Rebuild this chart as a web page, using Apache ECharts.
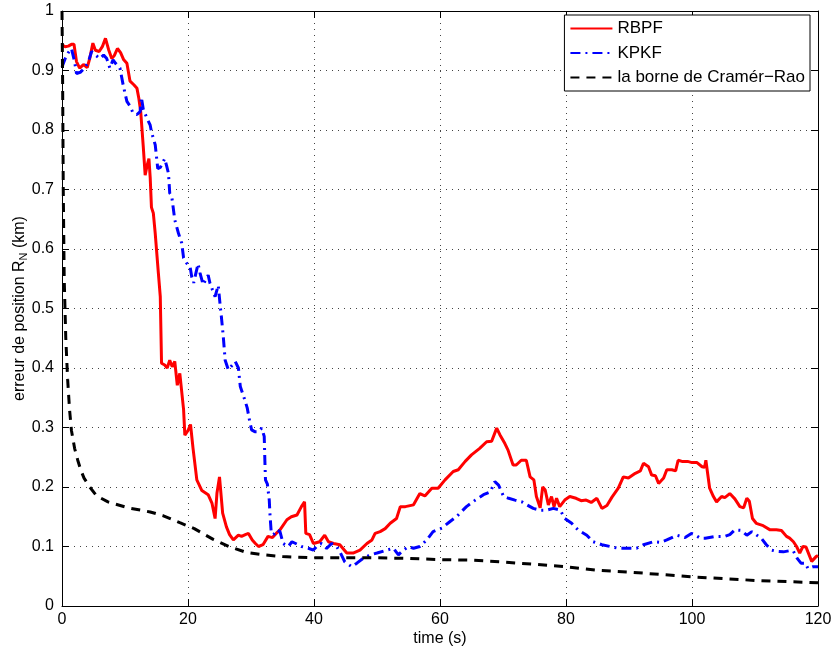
<!DOCTYPE html>
<html>
<head>
<meta charset="utf-8">
<script src="https://cdn.jsdelivr.net/npm/echarts@6/dist/echarts.min.js"></script>
<style>
  html, body { margin: 0; padding: 0; background: #fff; }
  #chart { width: 835px; height: 653px; }
</style>
</head>
<body>
<div id="chart"></div>
<script>
// Position error over time for the two filters and the Cramér-Rao bound
const rbpfTime = [0,0.5,1.0,1.5,1.9,2.3,2.8,3.4,4.0,4.4,4.9,5.3,5.9,6.4,6.9,7.4,7.9,8.3,8.8,9.3,9.8,10.3,10.6,10.8,11.4,11.9,12.2,12.5,12.9,13.2,13.5,13.8,14.0,14.2,14.5,14.8,15.3,15.6,15.8,16.3,16.7,17.1,17.5,17.9,18.3,18.7,19.0,19.3,19.5,20.0,20.4,20.8,21.4,22.2,23.2,23.8,24.3,24.6,25.0,25.5,26.1,26.6,27.2,28.0,28.5,29.1,29.6,30.2,30.7,31.2,31.9,32.7,33.4,34.0,34.6,35.7,36.4,37.3,38.0,38.5,38.7,39.3,39.9,40.9,41.7,42.3,43.1,44.1,45.2,46.2,47.3,48.4,49.2,49.7,50.5,51.3,52.1,53.1,53.7,54.5,55.8,56.8,57.6,58.7,59.7,60.8,62.1,62.9,64.0,65.0,66.3,67.4,68.2,69.0,69.5,70.3,70.8,71.6,72.1,72.9,73.7,74.3,74.9,75.3,75.9,76.3,76.7,77.2,77.7,78.1,78.5,79.0,79.8,80.6,81.6,82.4,83.2,84.0,84.9,85.7,86.5,87.3,88.3,89.1,89.9,91.0,91.8,92.3,93.1,93.6,94.2,94.7,95.5,96.0,96.8,97.4,97.8,98.4,99.3,100.0,100.8,101.6,102.0,102.2,102.8,103.4,103.9,104.7,105.2,106.0,106.8,107.6,108.2,108.7,109.1,109.6,110.2,111.3,112.4,113.4,114.2,115.0,115.5,116.1,116.6,117.1,117.6,118.1,119.0,119.7,120.0];
const rbpfErr = [0.943,0.94,0.941,0.944,0.944,0.915,0.904,0.91,0.905,0.92,0.946,0.934,0.932,0.94,0.954,0.935,0.92,0.925,0.937,0.93,0.918,0.912,0.909,0.882,0.876,0.87,0.853,0.83,0.772,0.724,0.74,0.752,0.72,0.67,0.66,0.626,0.559,0.52,0.408,0.405,0.40,0.413,0.402,0.411,0.371,0.391,0.393,0.33,0.287,0.295,0.305,0.265,0.212,0.194,0.187,0.173,0.147,0.19,0.217,0.156,0.133,0.12,0.111,0.119,0.117,0.12,0.122,0.111,0.105,0.100,0.103,0.117,0.115,0.122,0.128,0.145,0.150,0.153,0.167,0.175,0.122,0.120,0.105,0.108,0.119,0.108,0.105,0.103,0.089,0.089,0.094,0.105,0.111,0.122,0.125,0.13,0.139,0.147,0.167,0.167,0.170,0.189,0.185,0.198,0.198,0.212,0.226,0.229,0.243,0.254,0.265,0.276,0.277,0.299,0.288,0.273,0.262,0.237,0.237,0.245,0.245,0.217,0.212,0.184,0.165,0.20,0.195,0.170,0.184,0.167,0.181,0.167,0.178,0.184,0.181,0.177,0.178,0.174,0.181,0.164,0.169,0.183,0.198,0.217,0.215,0.223,0.227,0.240,0.234,0.220,0.219,0.206,0.215,0.229,0.229,0.227,0.245,0.243,0.243,0.241,0.241,0.234,0.233,0.245,0.198,0.184,0.175,0.184,0.182,0.189,0.18,0.167,0.165,0.181,0.176,0.147,0.139,0.135,0.128,0.128,0.127,0.117,0.114,0.108,0.10,0.089,0.10,0.099,0.075,0.083,0.085];

const kpkfTime = [0,0.5,1.0,1.5,2.0,2.3,2.9,3.6,4.2,4.7,5.2,6.0,6.6,7.1,7.6,8.1,8.5,9.2,9.7,10.3,10.8,11.3,11.9,12.4,12.6,12.9,13.4,14.0,14.2,14.8,15.2,15.6,16.0,16.3,16.6,16.9,17.1,17.4,17.9,18.5,19.0,19.3,19.8,20.3,20.6,20.9,21.6,21.9,22.4,23.2,23.5,24.3,24.8,25.1,25.3,25.6,25.9,26.4,26.7,27.5,28.0,28.3,28.9,29.4,29.8,30.1,30.6,31.2,31.7,32.1,32.2,32.3,32.6,32.9,33.0,33.2,33.6,34.1,34.6,35.1,35.9,36.5,37.3,38.0,39.1,39.9,40.7,41.2,42.0,42.8,43.6,44.2,44.9,46.0,46.8,47.8,48.9,50.0,51.6,52.6,53.4,54.2,55.0,55.8,56.8,57.9,58.9,60.3,61.6,62.6,64.2,65.6,66.9,68.0,68.7,69.3,70.1,70.9,71.9,73.0,73.8,74.8,75.9,76.9,78.0,79.1,79.8,80.9,81.9,83.3,84.3,85.7,87.0,88.3,89.5,91.2,92.3,93.9,95.0,96.0,97.6,98.9,99.9,100.4,101.3,102.1,103.7,105.2,106.0,106.8,107.8,108.7,109.5,110.3,111.0,111.8,112.6,113.4,114.5,115.5,116.1,116.7,117.3,118.0,118.4,119.2,120.0];
const kpkfErr = [0.906,0.92,0.93,0.937,0.915,0.895,0.897,0.904,0.915,0.932,0.927,0.92,0.926,0.92,0.904,0.918,0.912,0.904,0.876,0.848,0.84,0.828,0.826,0.831,0.855,0.835,0.822,0.808,0.797,0.775,0.735,0.737,0.745,0.752,0.74,0.727,0.694,0.69,0.649,0.626,0.61,0.585,0.576,0.572,0.553,0.543,0.575,0.56,0.54,0.556,0.542,0.52,0.539,0.506,0.486,0.453,0.413,0.397,0.40,0.411,0.40,0.369,0.35,0.333,0.31,0.296,0.293,0.293,0.299,0.285,0.245,0.212,0.205,0.178,0.156,0.125,0.12,0.128,0.125,0.105,0.10,0.108,0.104,0.10,0.097,0.094,0.103,0.105,0.097,0.105,0.10,0.089,0.074,0.066,0.072,0.080,0.086,0.089,0.094,0.097,0.086,0.094,0.10,0.097,0.10,0.111,0.125,0.131,0.142,0.15,0.167,0.178,0.187,0.192,0.209,0.203,0.184,0.181,0.178,0.175,0.17,0.164,0.161,0.161,0.164,0.161,0.147,0.139,0.128,0.119,0.108,0.103,0.10,0.097,0.097,0.097,0.103,0.108,0.107,0.111,0.119,0.115,0.122,0.12,0.114,0.114,0.117,0.117,0.12,0.128,0.127,0.119,0.125,0.119,0.114,0.103,0.094,0.092,0.091,0.093,0.092,0.080,0.072,0.072,0.063,0.066,0.066];

const crbTime = [0,0.1,0.2,0.35,0.6,0.9,1.2,1.5,2.0,2.5,3.0,3.5,4.4,5.5,7.3,10.5,14,16,18.7,21,24,26.5,29.3,32,35,40,45,50,55,60,65,70,75,80,85,90,95,100,105,110,115,120];
const crbErr = [1.0,0.88,0.7,0.55,0.45,0.38,0.33,0.295,0.265,0.245,0.228,0.215,0.2,0.185,0.175,0.165,0.158,0.152,0.14,0.13,0.112,0.1,0.09,0.086,0.083,0.081,0.081,0.081,0.080,0.078,0.077,0.074,0.070,0.066,0.060,0.057,0.053,0.049,0.046,0.043,0.041,0.039];

const seriesNames = ['RBPF', 'KPKF', 'la borne de Cramér\u2212Rao'];
const xTicks = { min: 0, max: 120, step: 20 };
const yTicks = { min: 0, max: 1, step: 0.1 };

const pairs = (t, v) => t.map((x, i) => [x, v[i]]);

const FONT = '"Liberation Sans", Arial, sans-serif';
const chart = echarts.init(document.getElementById('chart'), null, { renderer: 'canvas' });

const gridDots = { show: true, lineStyle: { color: '#444', type: [1, 5], width: 1 } };

chart.setOption({
  animation: false,
  backgroundColor: '#fff',
  textStyle: { fontFamily: FONT },
  grid: { left: 62, right: 17, top: 11, bottom: 47, containLabel: false, outerBoundsMode: 'none' },
  legend: {
    data: seriesNames,
    orient: 'vertical',
    right: 25,
    top: 15,
    padding: [5, 5, 5, 5],
    itemWidth: 42,
    itemHeight: 14,
    itemGap: 7.5,
    borderColor: '#000',
    borderWidth: 1,
    borderRadius: 0,
    backgroundColor: '#fff',
    itemStyle: { opacity: 0 },
    textStyle: { fontFamily: FONT, fontSize: 17, color: '#000' }
  },
  xAxis: [
    {
      type: 'value', min: xTicks.min, max: xTicks.max, interval: xTicks.step,
      position: 'bottom',
      name: 'time (s)', nameLocation: 'middle', nameGap: 25, nameMoveOverlap: false,
      nameTextStyle: { fontFamily: FONT, fontSize: 16, color: '#000' },
      axisLine: { show: true, onZero: false, lineStyle: { color: '#000', width: 1 } },
      axisTick: { show: true, inside: true, length: 7, lineStyle: { color: '#000' } },
      axisLabel: { fontFamily: FONT, fontSize: 16, color: '#000', margin: 6 },
      splitLine: gridDots
    },
    {
      type: 'value', min: xTicks.min, max: xTicks.max, interval: xTicks.step,
      position: 'top',
      axisLine: { show: true, onZero: false, lineStyle: { color: '#000', width: 1 } },
      axisTick: { show: true, inside: true, length: 7, lineStyle: { color: '#000' } },
      axisLabel: { show: false },
      splitLine: { show: false }
    }
  ],
  yAxis: [
    {
      type: 'value', min: yTicks.min, max: yTicks.max, interval: yTicks.step,
      position: 'left',
      name: 'erreur de position R{sub|N} (km)', nameLocation: 'middle', nameGap: 33,
      nameMoveOverlap: false,
      nameRotate: 90,
      nameTextStyle: {
        fontFamily: FONT, fontSize: 16, color: '#000',
        rich: { sub: { fontFamily: FONT, fontSize: 11, color: '#000', verticalAlign: 'bottom', padding: [7, 0, 0, 0] } }
      },
      axisLine: { show: true, onZero: false, lineStyle: { color: '#000', width: 1 } },
      axisTick: { show: true, inside: true, length: 7, lineStyle: { color: '#000' } },
      axisLabel: {
        fontFamily: FONT, fontSize: 16, color: '#000', margin: 8,
        formatter: v => String(+v.toFixed(1))
      },
      splitLine: gridDots
    },
    {
      type: 'value', min: yTicks.min, max: yTicks.max, interval: yTicks.step,
      position: 'right',
      axisLine: { show: true, onZero: false, lineStyle: { color: '#000', width: 1 } },
      axisTick: { show: true, inside: true, length: 7, lineStyle: { color: '#000' } },
      axisLabel: { show: false },
      splitLine: { show: false }
    }
  ],
  series: [
    {
      name: seriesNames[0], type: 'line', data: pairs(rbpfTime, rbpfErr),
      showSymbol: false, symbol: 'none', smooth: false,
      lineStyle: { color: '#ff0000', width: 3 },
      itemStyle: { color: '#ff0000' }
    },
    {
      name: seriesNames[1], type: 'line', data: pairs(kpkfTime, kpkfErr),
      showSymbol: false, symbol: 'none', smooth: false,
      lineStyle: { color: '#0000ff', width: 3, type: [10, 5, 2, 5] },
      itemStyle: { color: '#0000ff' }
    },
    {
      name: seriesNames[2], type: 'line', data: pairs(crbTime, crbErr),
      showSymbol: false, symbol: 'none', smooth: false,
      lineStyle: { color: '#000000', width: 3, type: [9, 7] },
      itemStyle: { color: '#000000' }
    }
  ]
});
</script>
</body>
</html>
